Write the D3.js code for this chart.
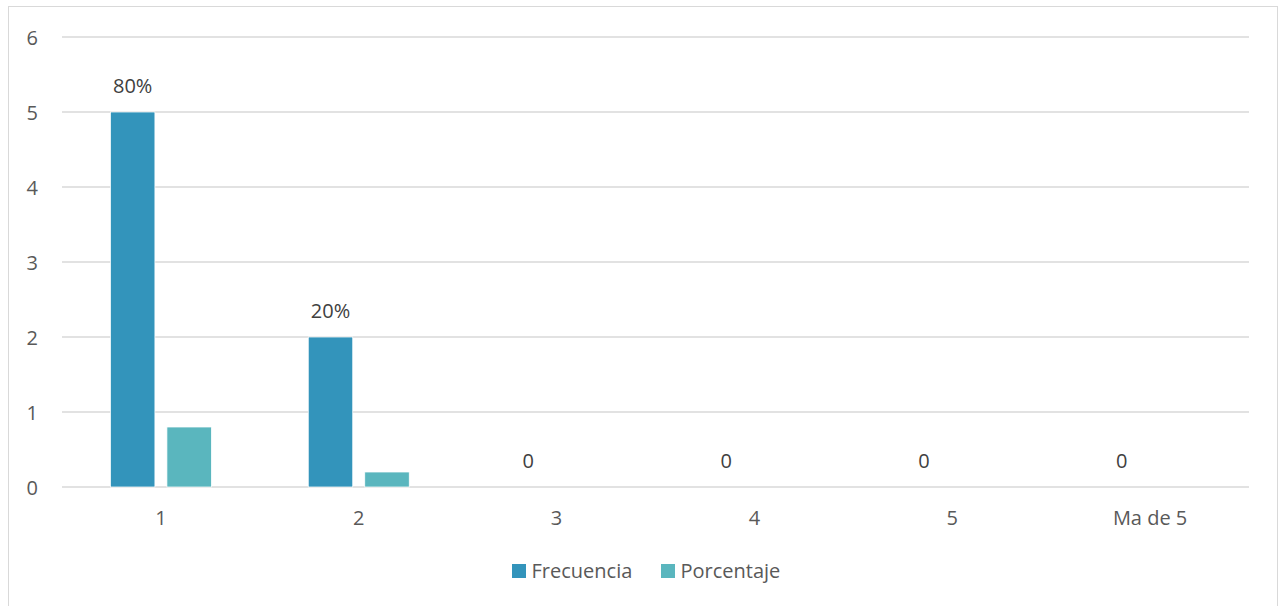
<!DOCTYPE html>
<html>
<head>
<meta charset="utf-8">
<script src="https://cdn.jsdelivr.net/npm/d3@7"></script>
<style>
  html, body { margin: 0; padding: 0; background: #fff; }
  svg { display: block; }
  text { font-family: "Open Sans", Lato, sans-serif; fill: #595959; }
</style>
</head>
<body>
<svg id="chart" width="1279" height="606"></svg>
<script>
// Chart data
const categories = ["1", "2", "3", "4", "5", "Ma de 5"];
const seriesNames = ["Frecuencia", "Porcentaje"];
const frecuencia = [5, 2, 0, 0, 0, 0];
const porcentaje = [0.8, 0.2, 0, 0, 0, 0];
const frecuenciaLabels = ["80%", "20%", "0", "0", "0", "0"];
const yTicks = [0, 1, 2, 3, 4, 5, 6];
const colors = ["#3394bb", "#5ab6be"];

const FONT = "'Open Sans', Lato, sans-serif";
const FS = 20;

const svg = d3.select("#chart");
const W = 1279, H = 606;
const plot = { left: 62, right: 1249, top: 37, bottom: 487 };

// Outer chart frame
svg.append("rect")
  .attr("x", 8.5).attr("y", 6.5)
  .attr("width", W - 10).attr("height", H + 10)
  .attr("fill", "#fff").attr("stroke", "#d9d9d9").attr("stroke-width", 1);

const x0 = d3.scaleBand().domain(categories).range([plot.left, plot.right]).padding(0);
const x1 = d3.scaleBand().domain(seriesNames).range([0, x0.bandwidth()])
  .paddingInner(0.2124).paddingOuter(0.857);
const y = d3.scaleLinear().domain([0, 6]).range([plot.bottom, plot.top]);

// Gridlines
svg.append("g").selectAll("line").data(yTicks).join("line")
  .attr("x1", plot.left).attr("x2", plot.right)
  .attr("y1", d => y(d)).attr("y2", d => y(d))
  .attr("stroke", "#d9d9d9").attr("stroke-width", 1.5);

// Y axis labels
const yAxis = d3.axisLeft(y).tickValues(yTicks).tickSize(0).tickPadding(0).tickFormat(d3.format("d"));
const gy = svg.append("g").attr("transform", `translate(38,0)`).call(yAxis);
gy.select(".domain").remove();
gy.selectAll("text").attr("font-size", FS).style("font-family", FONT).attr("fill", "#595959")
  .attr("dy", "0.35em");

// X axis labels
const xAxis = d3.axisBottom(x0).tickSize(0).tickPadding(0);
const gx = svg.append("g").attr("transform", `translate(0,${plot.bottom})`).call(xAxis);
gx.select(".domain").remove();
gx.selectAll("text").attr("font-size", FS).style("font-family", FONT).attr("fill", "#595959")
  .attr("y", 38).attr("dy", null);

// Bars
const rows = categories.map((c, i) => ({ cat: c, values: [frecuencia[i], porcentaje[i]], label: frecuenciaLabels[i] }));
const groups = svg.append("g").selectAll("g").data(rows).join("g")
  .attr("transform", d => `translate(${x0(d.cat)},0)`);

groups.selectAll("rect").data(d => d.values.map((v, k) => ({ key: seriesNames[k], v, k })))
  .join("rect")
  .attr("x", d => x1(d.key))
  .attr("width", x1.bandwidth())
  .attr("y", d => y(d.v))
  .attr("height", d => y(0) - y(d.v))
  .attr("fill", d => colors[d.k])
  .attr("stroke", "#fff").attr("stroke-width", 0.75);

// Data labels on Frecuencia
groups.append("text")
  .attr("x", x1("Frecuencia") + x1.bandwidth() / 2)
  .attr("y", d => y(d.values[0]) - 19)
  .attr("text-anchor", "middle")
  .attr("font-size", FS)
  .style("fill", "#404040")
  .text(d => d.label);

// Legend
const legendX = [512, 661];
const legend = svg.append("g").attr("transform", "translate(0,564)");
const items = legend.selectAll("g").data(seriesNames).join("g")
  .attr("transform", (d, i) => `translate(${legendX[i]},0)`);
items.append("rect").attr("width", 14).attr("height", 14).attr("fill", (d, i) => colors[i]);
items.append("text").attr("x", 19.5).attr("y", 13.5).attr("font-size", FS).text(d => d);
</script>
</body>
</html>
